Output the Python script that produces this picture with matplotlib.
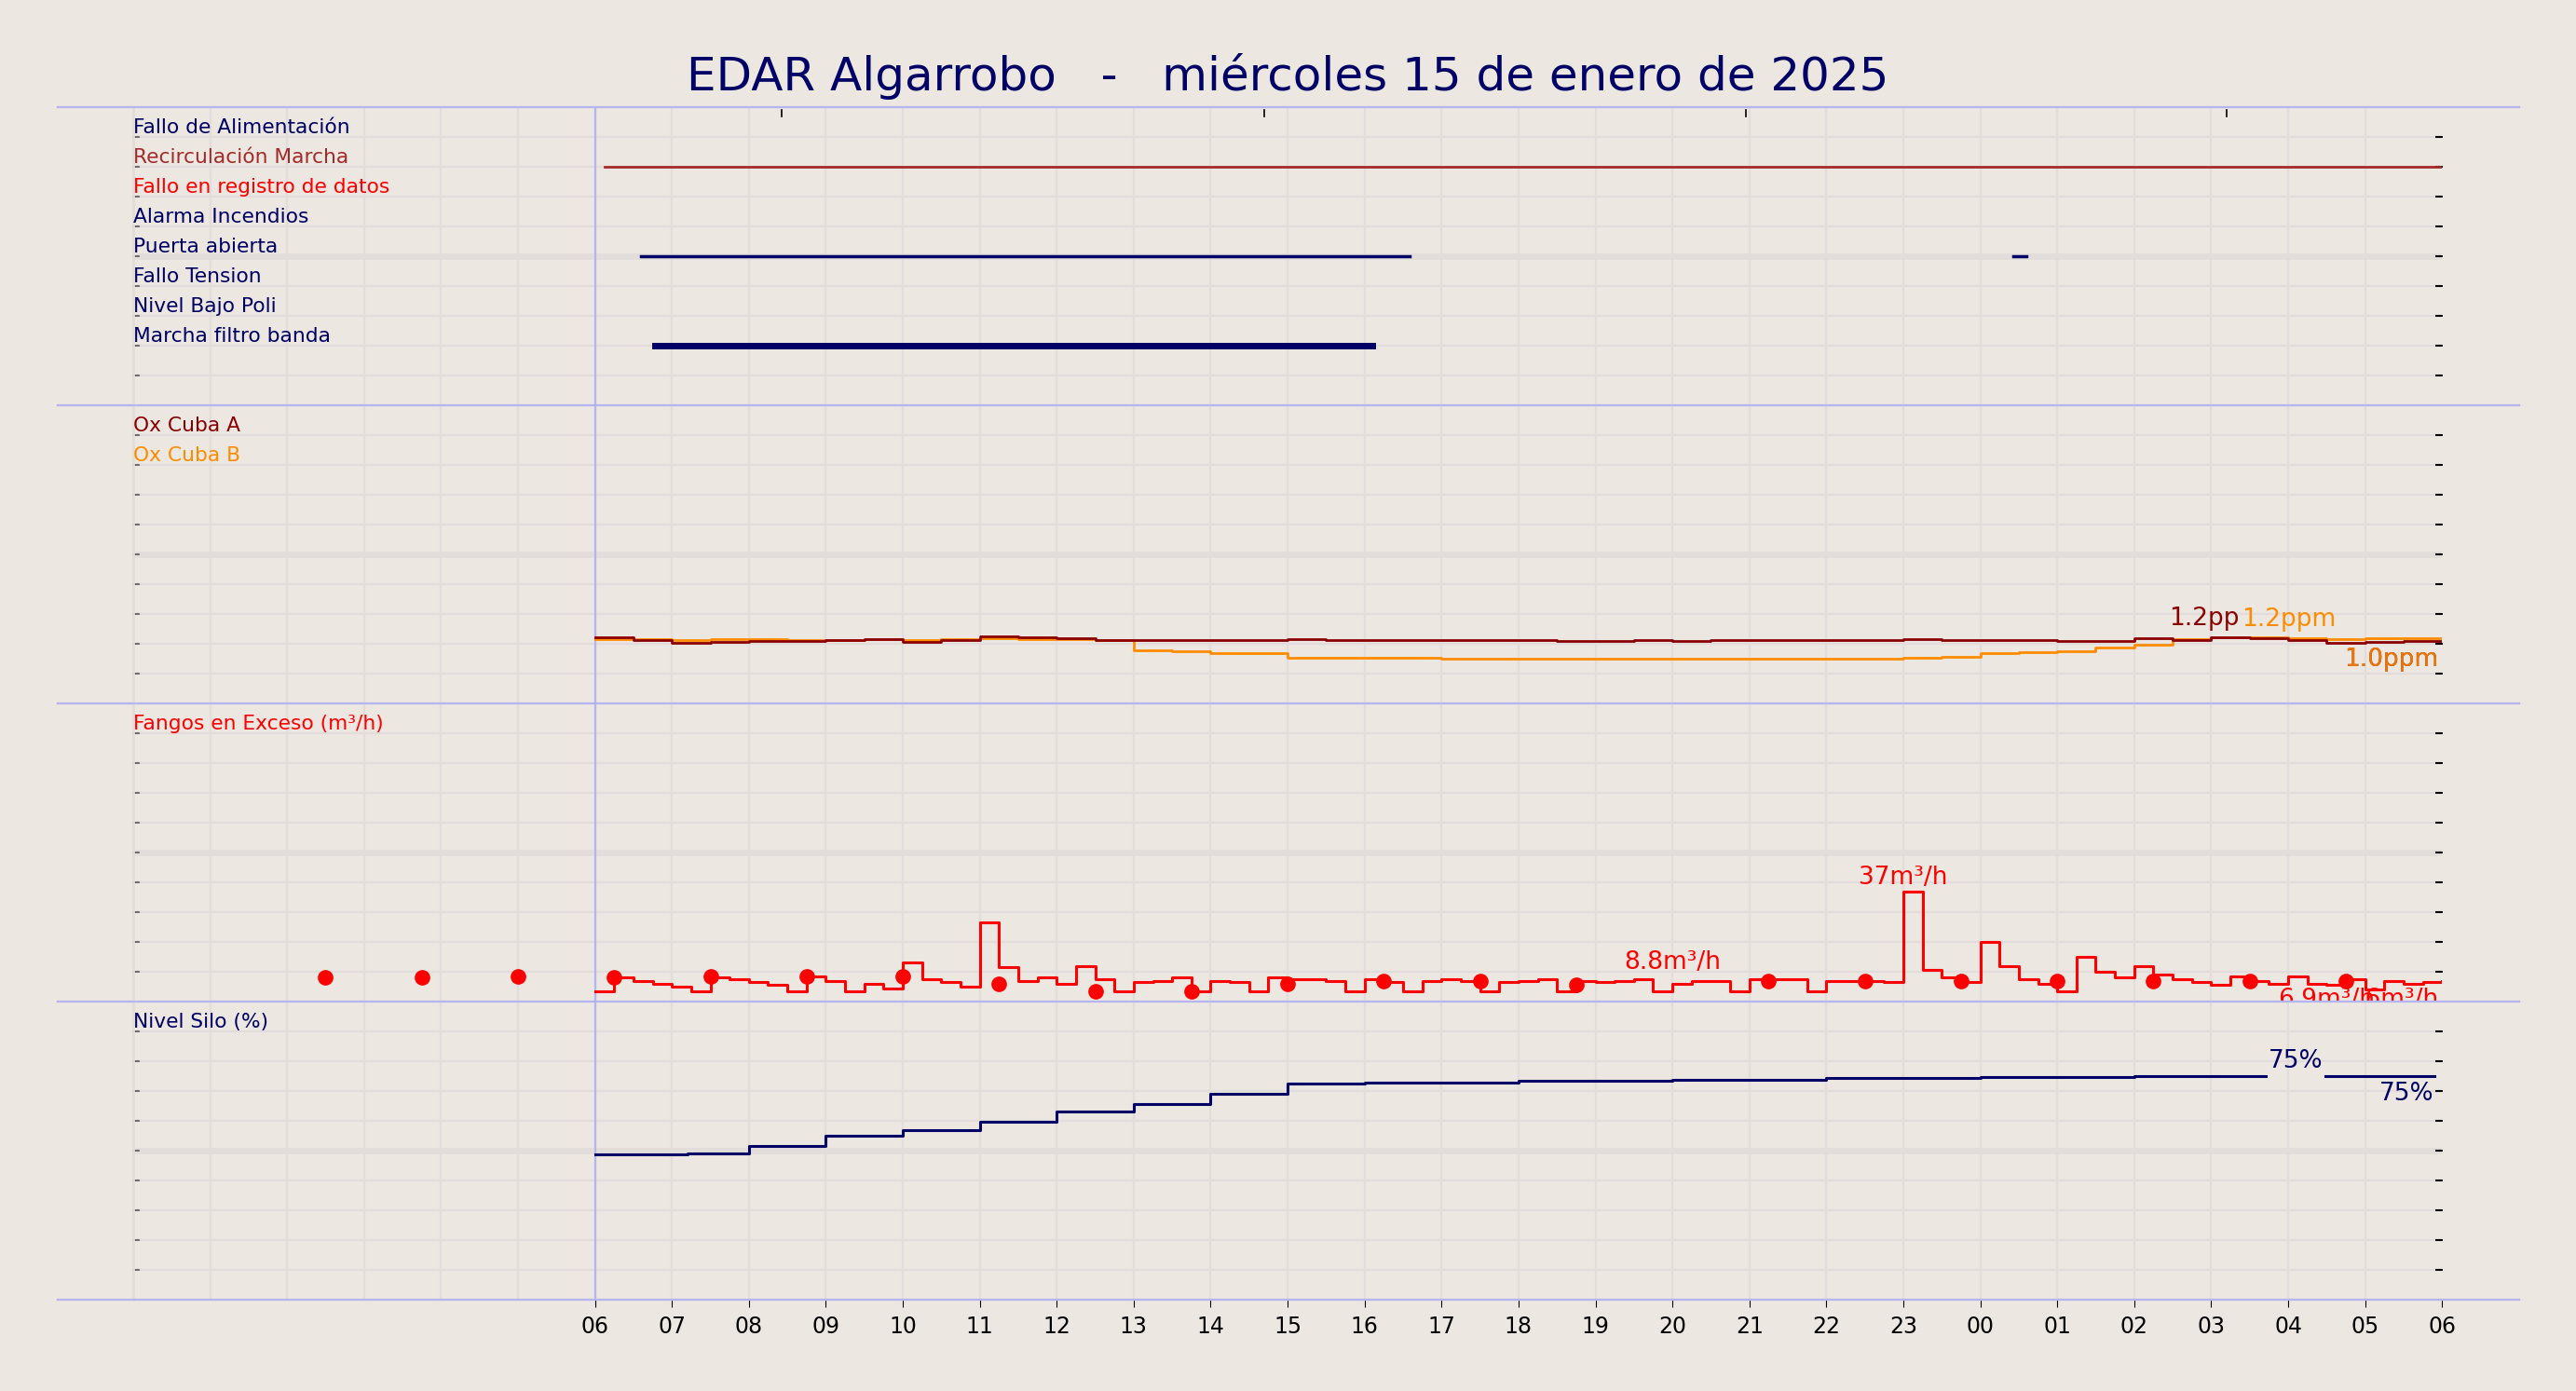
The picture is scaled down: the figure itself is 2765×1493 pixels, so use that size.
import numpy as np
import matplotlib
matplotlib.use("Agg")
import matplotlib.pyplot as plt

NAVY = "#000066"
BG = "#ECE7E1"
GRID = "#E2DDDA"
SEP = "#B4B4F0"

title = "EDAR Algarrobo   -   miércoles 15 de enero de 2025"
xtick_labels = ["06","07","08","09","10","11","12","13","14","15","16","17","18","19",
                "20","21","22","23","00","01","02","03","04","05","06"]

# panel 1: digital signals
sig_names = ["Fallo de Alimentación", "Recirculación Marcha", "Fallo en registro de datos",
             "Alarma Incendios", "Puerta abierta", "Fallo Tension", "Nivel Bajo Poli",
             "Marcha filtro banda"]
sig_colors = [NAVY, "#A52A2A", "red", NAVY, NAVY, NAVY, NAVY, NAVY]
recirc_on = [(6.12, 30.0)]
puerta_on = [(6.6, 16.58), (24.43, 24.6)]
filtro_on = [(6.78, 16.1)]

# panel 2: oxygen (ppm), 0.5 h steps from 06:00
ox_hours = [6 + 0.5 * i for i in range(49)]
oxA = [1.22, 1.17, 1.12, 1.13, 1.15, 1.15, 1.17, 1.18, 1.13, 1.17, 1.24, 1.22, 1.20, 1.17,
       1.16, 1.17, 1.16, 1.16, 1.18, 1.16, 1.16, 1.16, 1.17, 1.16, 1.16, 1.15, 1.15, 1.16,
       1.15, 1.16, 1.16, 1.16, 1.16, 1.16, 1.18, 1.16, 1.16, 1.17, 1.15, 1.15, 1.20, 1.17,
       1.22, 1.20, 1.17, 1.12, 1.13, 1.15, 1.15]
oxB = [1.19, 1.19, 1.17, 1.18, 1.18, 1.17, 1.17, 1.18, 1.17, 1.18, 1.20, 1.19, 1.19, 1.17,
       0.98, 0.97, 0.92, 0.92, 0.84, 0.84, 0.84, 0.84, 0.83, 0.83, 0.83, 0.83, 0.82, 0.82,
       0.82, 0.82, 0.82, 0.82, 0.83, 0.83, 0.84, 0.86, 0.92, 0.94, 0.97, 1.03, 1.08, 1.18,
       1.22, 1.22, 1.20, 1.18, 1.20, 1.20, 1.20]

# panel 3: fangos (m3/h), 0.25 h steps from 06:00
fan_hours = [6 + 0.25 * i for i in range(97)]
fangos = [3.3, 8.0, 7.0, 6.0, 5.0, 3.3, 8.0, 7.5, 6.5, 5.5, 3.3, 8.5, 7.0, 3.3, 6.0, 4.5,
          13.0, 7.5, 6.5, 5.0, 26.5, 11.5, 7.0, 8.0, 6.0, 12.0, 7.5, 3.3, 6.5, 7.0, 8.0, 3.3,
          7.0, 6.5, 3.3, 8.0, 7.5, 7.5, 7.0, 3.3,
          7.5, 6.5, 3.3, 7.0, 7.5, 7.0, 3.3, 6.5, 7.0, 7.5, 3.3, 7.0, 6.5, 7.0, 7.5, 3.3,
          6.0, 7.0, 7.0, 3.3, 7.5, 7.5, 7.5, 3.3, 7.0, 7.0, 7.0, 6.5,
          37.0, 10.5, 8.0, 6.5, 20.0, 12.0, 7.5, 6.0, 3.3, 15.0, 10.0, 8.0, 12.0, 9.0, 7.5,
          6.5, 5.5, 8.5, 7.0, 6.0, 8.5, 6.0, 5.5, 7.5, 4.0, 7.0, 6.0, 6.5, 7.0]
dot_hours = [2.5, 3.75, 5.0, 6.25, 7.5, 8.75, 10.0, 11.25, 12.5, 13.75, 15.0, 16.25, 17.5,
             18.75, 21.25, 22.5, 23.75, 25.0, 26.25, 27.5, 28.75]
dot_vals = [8.2, 8.2, 8.4, 8.2, 8.4, 8.4, 8.4, 6.0, 3.5, 3.5, 6.0, 7.0, 7.0, 5.5, 7.0, 7.0,
            7.0, 7.0, 7.0, 7.0, 7.0]

# panel 4: silo level (%)
silo_hours = [6.0, 7.2, 8.0, 9.0, 10.0, 11.0, 12.0, 13.0, 14.0, 15.0, 16.0, 18.0, 20.0, 22.0,
              24.0, 26.0, 27.7, 27.71, 28.48, 29.9]
silo_vals = [48.6, 49.0, 51.5, 55.0, 57.0, 59.7, 63.0, 65.7, 69.0, 72.4, 72.8, 73.3, 73.8,
             74.2, 74.6, 75.0, 75.0, np.nan, 75.0, 75.0]

fig = plt.figure(figsize=(27.65, 14.93), dpi=100, facecolor=BG)
L, R, T, B = 0.0517, 0.948, 0.923, 0.0657
H = (T - B) / 4
axes = []
for i in range(4):
    ax = fig.add_axes([L, T - (i + 1) * H, R - L, H], facecolor=BG)
    ax.set_xlim(0, 30)
    ax.set_ylim(0, 10)
    for h in range(1, 30):
        ax.axvline(h, color=GRID, lw=1.6, zorder=0)
    for k in range(1, 10):
        ax.axhline(k, color=GRID, lw=5 if k == 5 else 1.6, zorder=0)
    for s in ax.spines.values():
        s.set_visible(False)
    ax.spines["left"].set_visible(True)
    ax.spines["left"].set_color(GRID)
    ax.spines["left"].set_linewidth(2)
    ax.set_xticks([])
    ax.set_yticks([])
    for k in range(1, 10):
        ax.plot([29.93, 30.0], [k, k], color="black", lw=1.5, clip_on=False)
        ax.plot([0, 0.07], [k, k], color="#555555", lw=1.2, clip_on=False)
    ax.axvline(6, color=SEP, lw=1.6, zorder=1)
    axes.append(ax)

fs = 15.7
# panel 1
ax = axes[0]
for j, (n, c) in enumerate(zip(sig_names, sig_colors)):
    ax.text(0.0, 9 - j, n, color=c, fontsize=fs, va="bottom", ha="left")
for a, b in recirc_on:
    ax.plot([a, b], [8, 8], color="#A52A2A", lw=2)
for a, b in puerta_on:
    ax.plot([a, b], [5, 5], color=NAVY, lw=2.5)
for a, b in filtro_on:
    ax.plot([a, b], [2, 2], color=NAVY, lw=5)
for tx in [8.43, 14.7, 20.95, 27.2]:
    ax.plot([tx, tx], [9.7, 9.9], color="black", lw=1.2)

# panel 2
ax = axes[1]
sc = 10 / 5.5
ax.text(0.0, 9, "Ox Cuba A", color="#8B0000", fontsize=fs, va="bottom")
ax.text(0.0, 8, "Ox Cuba B", color="#FF8C00", fontsize=fs, va="bottom")
ax.step(ox_hours, np.array(oxB) * sc, where="post", color="#FF8C00", lw=2)
ax.step(ox_hours, np.array(oxA) * sc, where="post", color="#8B0000", lw=2)
ax.text(26.45, 2.45, "1.2pp", color="#8B0000", fontsize=19, ha="left", va="bottom")
ax.text(27.4, 2.4, "1.2ppm", color="#FF8C00", fontsize=19, ha="left", va="bottom")
ax.text(29.95, 1.05, "1.0ppm", color="#8B0000", fontsize=19, ha="right", va="bottom")
ax.text(29.95, 1.05, "1.0ppm", color="#FF8C00", fontsize=19, ha="right", va="bottom", alpha=0.85)

# panel 3
ax = axes[2]
ax.text(0.0, 9, "Fangos en Exceso (m³/h)", color="red", fontsize=fs, va="bottom")
ax.step(fan_hours, np.array(fangos) / 10, where="post", color="red", lw=2.2)
ax.plot(dot_hours, np.array(dot_vals) / 10, "o", color="red", ms=11, ls="none")
ax.text(20.0, 0.9, "8.8m³/h", color="red", fontsize=19, ha="center", va="bottom")
ax.text(23.0, 3.75, "37m³/h", color="red", fontsize=19, ha="center", va="bottom")
ax.text(28.5, -0.35, "6.9m³/h", color="red", fontsize=19, ha="center", va="bottom")
ax.text(29.95, -0.35, ".6m³/h", color="red", fontsize=19, ha="right", va="bottom")

# panel 4
ax = axes[3]
ax.text(0.0, 9, "Nivel Silo (%)", color=NAVY, fontsize=fs, va="bottom")
ax.step(silo_hours, np.array(silo_vals) / 10, where="post", color=NAVY, lw=2.2)
ax.text(28.1, 7.6, "75%", color=NAVY, fontsize=19, ha="center", va="bottom")
ax.text(29.9, 6.5, "75%", color=NAVY, fontsize=19, ha="right", va="bottom")
ax.set_xticks(range(6, 31))
ax.set_xticklabels(xtick_labels, fontsize=17)
ax.tick_params(axis="x", length=6, color="black", pad=6)

for i in range(5):
    y = T - i * H
    fig.add_artist(plt.Line2D([0.0225, 0.978], [y, y], color=SEP, lw=1.6,
                              transform=fig.transFigure))

fig.text(0.5, 0.945, title, color=NAVY, fontsize=36, ha="center", va="center")
fig.savefig("out.png", dpi=100, facecolor=BG)
